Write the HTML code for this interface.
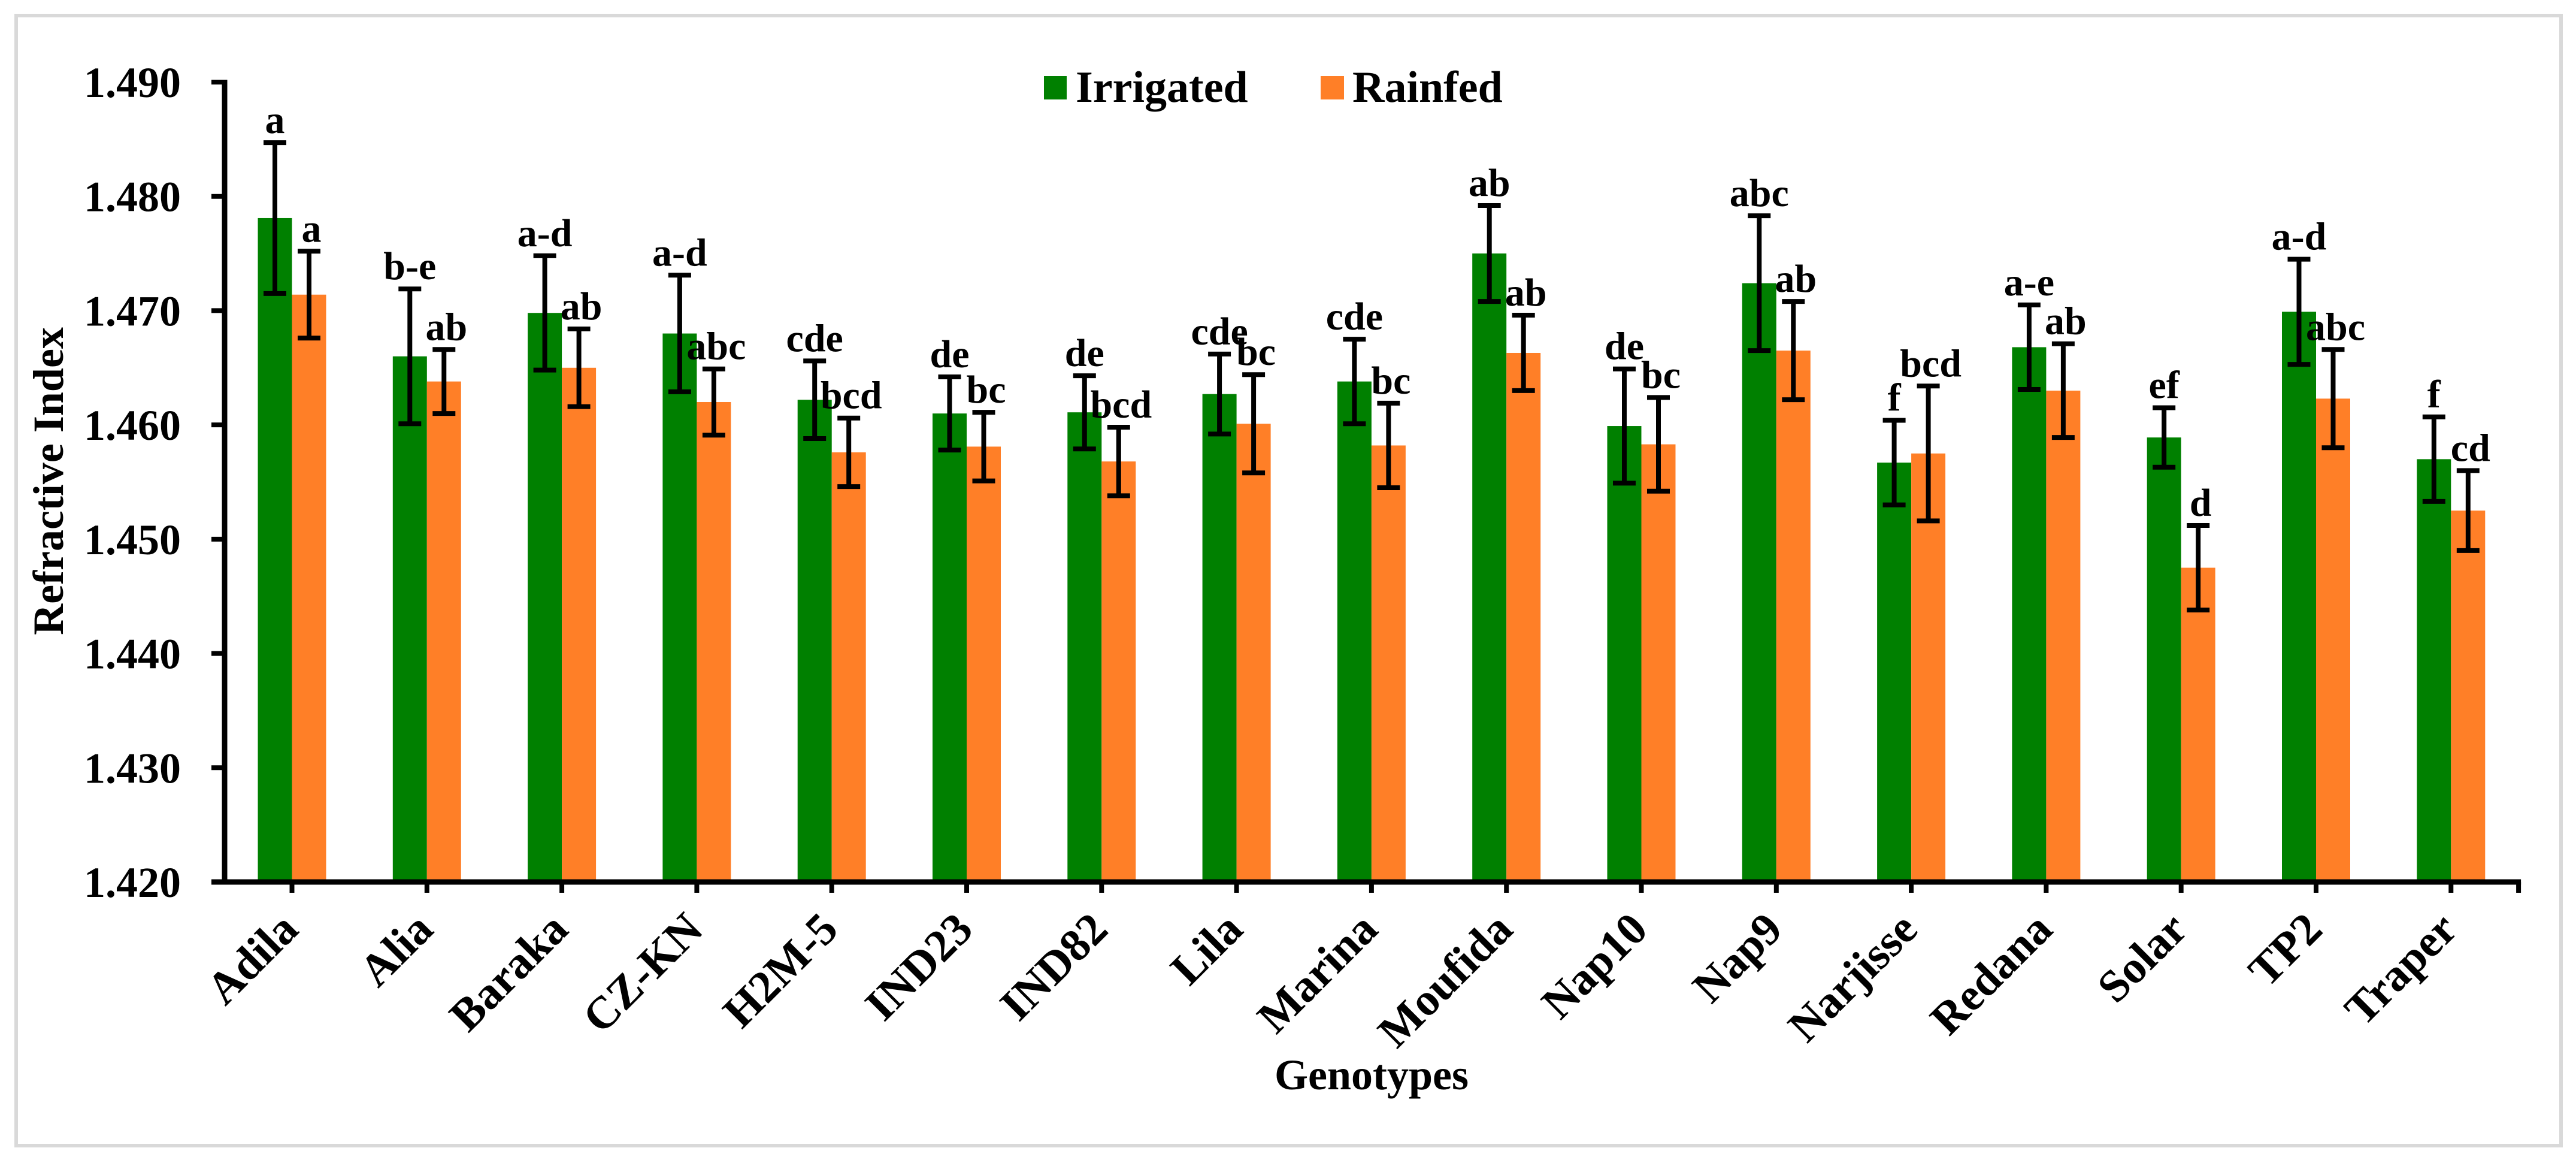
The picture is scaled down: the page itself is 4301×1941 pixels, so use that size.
<!DOCTYPE html>
<html><head><meta charset="utf-8"><style>
html,body{margin:0;padding:0;background:#fff}
svg{display:block}
text{font-family:"Liberation Serif",serif;font-weight:bold;fill:#000}
</style></head><body>
<svg id="chart" width="4301" height="1941" viewBox="0 0 4301 1941">
<rect x="27" y="26" width="4249" height="1886" fill="#fff" stroke="#d9d9d9" stroke-width="6"/>
<g id="plot"></g>
</svg>
<script>
const categories = ["Adila","Alia","Baraka","CZ-KN","H2M-5","IND23","IND82","Lila","Marina","Moufida","Nap10","Nap9","Narjisse","Redana","Solar","TP2","Traper"];
const irrigated = [1.4781,1.4660,1.4698,1.4680,1.4622,1.4610,1.4611,1.4627,1.4638,1.4750,1.4599,1.4724,1.4567,1.4668,1.4589,1.4699,1.4570];
const irrigatedErr = [0.0066,0.0059,0.0050,0.0051,0.0034,0.0032,0.0032,0.0035,0.0037,0.0042,0.0050,0.0059,0.0037,0.0037,0.0026,0.0046,0.0037];
const rainfed = [1.4714,1.4638,1.4650,1.4620,1.4576,1.4581,1.4568,1.4601,1.4582,1.4663,1.4583,1.4665,1.4575,1.4630,1.4475,1.4623,1.4525];
const rainfedErr = [0.0038,0.0028,0.0034,0.0029,0.0030,0.0030,0.0030,0.0043,0.0037,0.0033,0.0041,0.0043,0.0059,0.0041,0.0037,0.0043,0.0035];
const irrigatedLetters = ["a","b-e","a-d","a-d","cde","de","de","cde","cde","ab","de","abc","f","a-e","ef","a-d","f"];
const rainfedLetters = ["a","ab","ab","abc","bcd","bc","bcd","bc","bc","ab","bc","ab","bcd","ab","d","abc","cd"];
const yTicks = [1.420,1.430,1.440,1.450,1.460,1.470,1.480,1.490];

const NS="http://www.w3.org/2000/svg";
const g=document.getElementById('plot');
const X0=375, STEP=225.3, FIRST=487.5, BW=57;
const Y0=1472, Y1=137, VMIN=1.420, VMAX=1.490;
function yS(v){return Y0-(v-VMIN)/(VMAX-VMIN)*(Y0-Y1);}
function xC(i){return FIRST+STEP*i;}
function mk(tag,attrs,parent){const e=document.createElementNS(NS,tag);for(const k in attrs)e.setAttribute(k,attrs[k]);(parent||g).appendChild(e);return e;}

categories.forEach((c,i)=>{
  const cx=xC(i);
  let b=mk('rect',{x:cx-BW,y:yS(irrigated[i]),width:BW,height:Y0-yS(irrigated[i]),fill:'#008000'});
  
  
  let r=mk('rect',{x:cx,y:yS(rainfed[i]),width:BW,height:Y0-yS(rainfed[i]),fill:'#ff7f27'});
  
  
});
function err(x,v,e,name){
  const grp=mk('g',{stroke:'#000','stroke-width':8});
  
  
  mk('line',{x1:x,x2:x,y1:yS(v+e),y2:yS(v-e)},grp);
  mk('line',{x1:x-19,x2:x+19,y1:yS(v+e),y2:yS(v+e)},grp);
  mk('line',{x1:x-19,x2:x+19,y1:yS(v-e),y2:yS(v-e)},grp);
}
categories.forEach((c,i)=>{
  const cx=xC(i);
  err(cx-BW/2,irrigated[i],irrigatedErr[i],'error-bar-irrigated-'+c.toLowerCase());
  err(cx+BW/2,rainfed[i],rainfedErr[i],'error-bar-rainfed-'+c.toLowerCase());
  let t=mk('text',{x:cx-BW/2,y:yS(irrigated[i]+irrigatedErr[i])-16,'text-anchor':'middle','font-size':66});
  t.textContent=irrigatedLetters[i];
  
  
  let t2=mk('text',{x:cx+BW/2+4,y:yS(rainfed[i]+rainfedErr[i])-16,'text-anchor':'middle','font-size':66});
  t2.textContent=rainfedLetters[i];
  
  
  let tk=mk('line',{x1:cx,x2:cx,y1:Y0,y2:Y0+18,stroke:'#000','stroke-width':8});
  
  
  const lx=cx+14, ly=1555;
  let lb=mk('text',{x:lx,y:ly,'text-anchor':'end','font-size':76,transform:'rotate(-45 '+lx+' '+ly+')'});
  lb.textContent=c;
  
  
});
let ya=mk('line',{x1:X0,x2:X0,y1:Y1-4,y2:Y0+4,stroke:'#000','stroke-width':9});


let xa=mk('line',{x1:X0-22,x2:X0+STEP*17+4,y1:Y0,y2:Y0,stroke:'#000','stroke-width':9});


let et=mk('line',{x1:X0+STEP*17,x2:X0+STEP*17,y1:Y0,y2:Y0+18,stroke:'#000','stroke-width':8});


yTicks.forEach(v=>{
  let l=mk('line',{x1:X0-22,x2:X0,y1:yS(v),y2:yS(v),stroke:'#000','stroke-width':8});
  
  
  let t=mk('text',{x:302,y:yS(v)+25,'text-anchor':'end','font-size':72});
  t.textContent=v.toFixed(3);
  
  
});
</script>
<svg style="position:absolute;left:0;top:0" width="4301" height="1941">
<text x="105" y="803" text-anchor="middle" font-size="72" transform="rotate(-90 105 803)">Refractive Index</text>
<text x="2290" y="1818" text-anchor="middle" font-size="72">Genotypes</text>
<g>
<rect x="1743" y="127" width="38" height="39" fill="#008000"/>
<text x="1796" y="170" font-size="74">Irrigated</text>
<rect x="2205" y="127" width="39" height="39" fill="#ff7f27"/>
<text x="2258" y="170" font-size="74">Rainfed</text>
</g>
</svg>
</body></html>
